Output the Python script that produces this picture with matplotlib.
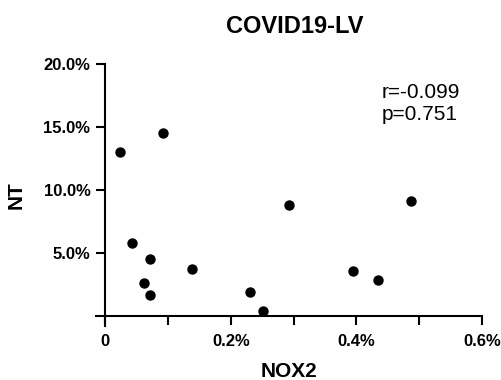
import matplotlib
matplotlib.use("Agg")
import matplotlib.pyplot as plt
from matplotlib.ticker import FixedLocator

plt.rcParams["font.family"] = ["Liberation Sans", "DejaVu Sans"]

# NOX2 (%) vs NT (%)
nox2 = [0.024, 0.092, 0.043, 0.072, 0.062, 0.072, 0.138, 0.231,
        0.251, 0.293, 0.394, 0.434, 0.487]
nt = [13.0, 14.5, 5.8, 4.5, 2.6, 1.65, 3.7, 1.9,
      0.4, 8.75, 3.55, 2.85, 9.1]

x_ticks = [0, 0.2, 0.4, 0.6]
x_labels = ["0", "0.2%", "0.4%", "0.6%"]
y_ticks = [5, 10, 15, 20]
y_labels = ["5.0%", "10.0%", "15.0%", "20.0%"]

fig = plt.figure(figsize=(5.02, 3.8), dpi=100)
ax = fig.add_axes([0.1905, 0.1426, 0.770, 0.690])

ax.scatter(nox2, nt, s=42, color="black", zorder=3, clip_on=False)

ax.set_xlim(-0.015, 0.6)
ax.set_ylim(-0.8, 20)
ax.spines["left"].set_position(("data", 0))
ax.spines["bottom"].set_position(("data", 0))
ax.spines["top"].set_visible(False)
ax.spines["right"].set_visible(False)
for s in ["left", "bottom"]:
    ax.spines[s].set_linewidth(1.5)

ax.set_xticks(x_ticks)
ax.set_xticklabels(x_labels, fontweight="bold", fontsize=12)
ax.xaxis.set_minor_locator(FixedLocator([0.1, 0.3, 0.5]))
ax.set_yticks(y_ticks)
ax.set_yticklabels(y_labels, fontweight="bold", fontsize=12)
ax.tick_params(which="major", length=6.5, width=1.5, direction="out")
ax.tick_params(axis="x", which="minor", length=6.5, width=1.5, direction="out")
ax.tick_params(axis="x", which="major", pad=7)
ax.tick_params(axis="y", which="major", pad=4)

ax.set_xlabel("NOX2", fontweight="bold", fontsize=15, labelpad=9)
ax.set_ylabel("NT", fontweight="bold", fontsize=15, labelpad=12.5)
ax.set_title("COVID19-LV", fontweight="bold", fontsize=17, pad=22, x=0.516)

ax.text(0.4406, 18.5, "r=-0.099\np=0.751", fontsize=15, va="top",
        linespacing=1.25)

fig.savefig("out.png", dpi=100)
